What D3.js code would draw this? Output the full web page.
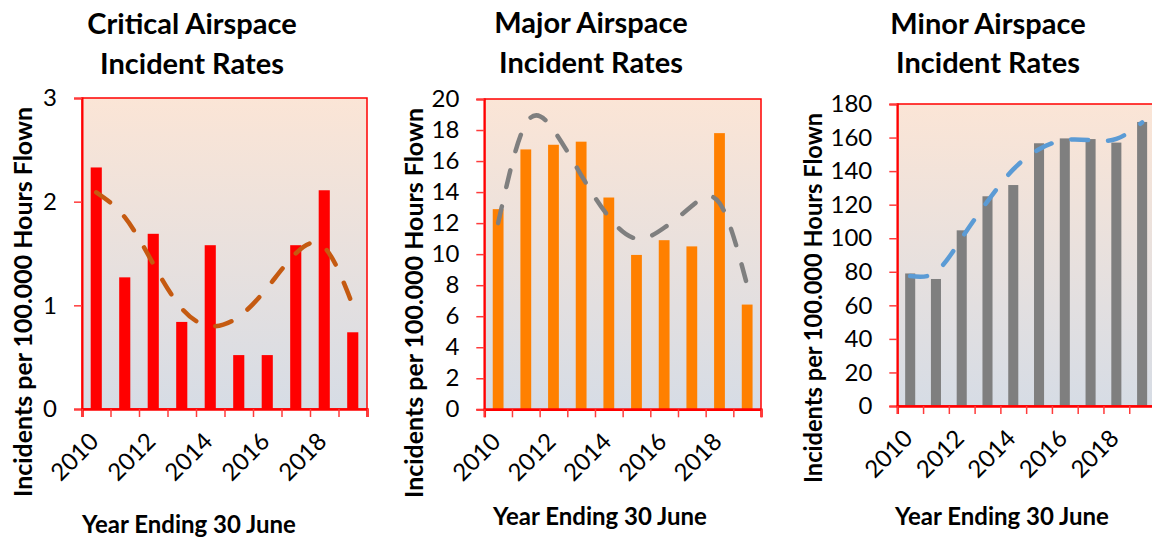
<!DOCTYPE html>
<html>
<head>
<meta charset="utf-8">
<script src="https://cdn.jsdelivr.net/npm/d3@7"></script>
<style>
body { margin: 0; background: #fff; }
svg { display: block; font-family: Lato, "Open Sans", sans-serif; }
</style>
</head>
<body>
<svg id="chart" width="1152" height="541"></svg>
<script>
var years = [2010, 2011, 2012, 2013, 2014, 2015, 2016, 2017, 2018, 2019];
var yearTickLabels = [2010, 2012, 2014, 2016, 2018];

var criticalRates = [2.33, 1.27, 1.69, 0.84, 1.58, 0.52, 0.52, 1.58, 2.11, 0.74];
var criticalTrend = [2.09, 1.85, 1.40, 0.97, 0.80, 0.89, 1.17, 1.50, 1.56, 1.00];
var criticalTicks = [0, 1, 2, 3];

var majorRates = [12.9, 16.75, 17.05, 17.25, 13.65, 9.95, 10.9, 10.5, 17.8, 6.75];
var majorTrend = [12.0, 18.4, 18.0, 15.1, 12.4, 11.0, 11.7, 13.1, 13.3, 8.0];
var majorTicks = [0, 2, 4, 6, 8, 10, 12, 14, 16, 18, 20];

var minorRates = [79, 75.7, 104.7, 125, 131.7, 156.6, 159.5, 159.1, 157, 169.3];
var minorTrend = [77.5, 80, 100, 122, 141, 153, 158.5, 158.4, 159.2, 169];
var minorTicks = [0, 20, 40, 60, 80, 100, 120, 140, 160, 180];

var titles = [['Critical Airspace', 'Incident Rates'], ['Major Airspace', 'Incident Rates'], ['Minor Airspace', 'Incident Rates']];
var yAxisTitle = 'Incidents per 100.000 Hours Flown';
var xAxisTitle = 'Year Ending 30 June';

var override = function(target, src){
    for(var k in src){ if(src.hasOwnProperty(k)){ target[k] = src[k]; } }
    return target;
};

var svg = d3.select('#chart');
var defs = svg.append('defs');

var drawPanel = function(_config){
    var config = {
        id: null,
        plot: null,
        values: null,
        trend: null,
        ticks: null,
        barColor: null,
        trendColor: null,
        title: null,
        titleX: null,
        titleY: [34, 74],
        yLabelX: null,
        yLabelY: null,
        yLabelLength: 390,
        xLabelX: null,
        xLabelY: null
    };
    override(config, _config);
    var p = config.plot;

    var grad = defs.append('linearGradient')
        .attr('id', 'bg-' + config.id)
        .attr('x1', 0).attr('y1', 0).attr('x2', 0).attr('y2', 1);
    grad.append('stop').attr('offset', '0%').attr('stop-color', '#fbe5d6');
    grad.append('stop').attr('offset', '100%').attr('stop-color', '#d6dce5');

    var scaleX = d3.scaleBand().domain(years).range([p.x0, p.x1]);
    var scaleY = d3.scaleLinear().domain([0, d3.max(config.ticks)]).range([p.y1, p.y0]);
    var barW = scaleX.step() * 0.39;

    var panel = svg.append('g').attr('class', 'panel ' + config.id);

    panel.append('rect')
        .attr('x', p.x0).attr('y', p.y0)
        .attr('width', p.x1 - p.x0).attr('height', p.y1 - p.y0)
        .attr('fill', 'url(#bg-' + config.id + ')');

    panel.selectAll('rect.bar')
        .data(config.values)
        .enter().append('rect')
        .attr('class', 'bar')
        .attr('x', function(d, i){ return scaleX(years[i]) + (scaleX.step() - barW) / 2; })
        .attr('y', function(d){ return scaleY(d); })
        .attr('width', barW)
        .attr('height', function(d){ return scaleY(0) - scaleY(d); })
        .attr('fill', config.barColor);

    var line = d3.line()
        .x(function(d, i){ return scaleX(years[i]) + scaleX.step() / 2; })
        .y(function(d){ return scaleY(d); })
        .curve(d3.curveNatural);
    panel.append('path')
        .attr('d', line(config.trend))
        .attr('fill', 'none')
        .attr('stroke', config.trendColor)
        .attr('stroke-width', 4.5)
        .attr('stroke-linecap', 'round')
        .attr('stroke-dasharray', '17,20');

    panel.append('rect')
        .attr('x', p.x0).attr('y', p.y0)
        .attr('width', p.x1 - p.x0).attr('height', p.y1 - p.y0)
        .attr('fill', 'none')
        .attr('stroke', '#ff0000')
        .attr('stroke-width', 1.5);

    // y axis
    var yAxis = panel.append('g')
        .attr('transform', 'translate(' + p.x0 + ',0)')
        .call(d3.axisLeft(scaleY).tickValues(config.ticks).tickSize(8).tickPadding(17).tickFormat(d3.format('d')))
        .attr('font-family', 'Lato, "Open Sans", sans-serif')
        .attr('font-size', 24);
    yAxis.select('.domain').attr('stroke', '#ff0000').attr('stroke-width', 2);
    yAxis.selectAll('.tick line').attr('stroke', '#ff3b3b').attr('stroke-width', 1.5);
    yAxis.selectAll('.tick text').attr('fill', '#000');

    // x axis tick marks between categories
    var boundary = d3.scaleLinear().domain([0, years.length]).range([p.x0, p.x1]);
    var xTicks = panel.append('g')
        .attr('transform', 'translate(0,' + p.y1 + ')')
        .call(d3.axisBottom(boundary).ticks(years.length).tickSize(8).tickFormat(''));
    xTicks.select('.domain').attr('stroke', '#ff0000').attr('stroke-width', 2.5);
    xTicks.selectAll('.tick line').attr('stroke', '#ff3b3b').attr('stroke-width', 1.5);

    // x axis labels (every other year)
    var xLabels = panel.append('g')
        .attr('transform', 'translate(0,' + p.y1 + ')')
        .call(d3.axisBottom(scaleX).tickValues(yearTickLabels).tickSize(0))
        .attr('font-family', 'Lato, "Open Sans", sans-serif')
        .attr('font-size', 24);
    xLabels.select('.domain').remove();
    xLabels.selectAll('.tick text')
        .attr('fill', '#000')
        .attr('text-anchor', 'end')
        .attr('y', 0)
        .attr('dy', '0.35em')
        .attr('transform', 'translate(-2,28) rotate(-45)');

    // titles
    panel.selectAll('text.title')
        .data(config.title)
        .enter().append('text')
        .attr('class', 'title')
        .attr('x', config.titleX)
        .attr('y', function(d, i){ return config.titleY[i]; })
        .attr('text-anchor', 'middle')
        .style('font-size', '29px')
        .style('font-weight', 'bold')
        .text(function(d){ return d; });

    panel.append('text')
        .attr('transform', 'translate(' + config.yLabelX + ',' + config.yLabelY + ') rotate(-90)')
        .attr('text-anchor', 'middle')
        .attr('textLength', config.yLabelLength)
        .attr('lengthAdjust', 'spacingAndGlyphs')
        .style('font-size', '24px')
        .style('font-weight', 'bold')
        .text(yAxisTitle);

    panel.append('text')
        .attr('x', config.xLabelX)
        .attr('y', config.xLabelY)
        .attr('text-anchor', 'middle')
        .style('font-size', '24px')
        .style('font-weight', 'bold')
        .text(xAxisTitle);

    return {};
};

drawPanel({
    id: 'critical',
    plot: {x0: 82, x1: 367, y0: 98, y1: 409},
    values: criticalRates,
    trend: criticalTrend,
    ticks: criticalTicks,
    barColor: '#ff0000',
    trendColor: '#c55a11',
    title: titles[0],
    titleX: 192,
    yLabelX: 32,
    yLabelY: 302,
    xLabelX: 189,
    xLabelY: 533
});

drawPanel({
    id: 'major',
    plot: {x0: 484.3, x1: 761, y0: 99, y1: 409.3},
    values: majorRates,
    trend: majorTrend,
    ticks: majorTicks,
    barColor: '#ff8000',
    trendColor: '#7f7f7f',
    title: titles[1],
    titleX: 591,
    titleY: [33, 73],
    yLabelX: 423,
    yLabelY: 303,
    xLabelX: 600,
    xLabelY: 525
});

drawPanel({
    id: 'minor',
    plot: {x0: 897.3, x1: 1155, y0: 104, y1: 406},
    values: minorRates,
    trend: minorTrend,
    ticks: minorTicks,
    barColor: '#7f7f7f',
    trendColor: '#5b9bd5',
    title: titles[2],
    titleX: 988,
    titleY: [34, 73],
    yLabelX: 822,
    yLabelY: 298,
    yLabelLength: 370,
    xLabelX: 1002,
    xLabelY: 525
});
</script>
</body>
</html>
